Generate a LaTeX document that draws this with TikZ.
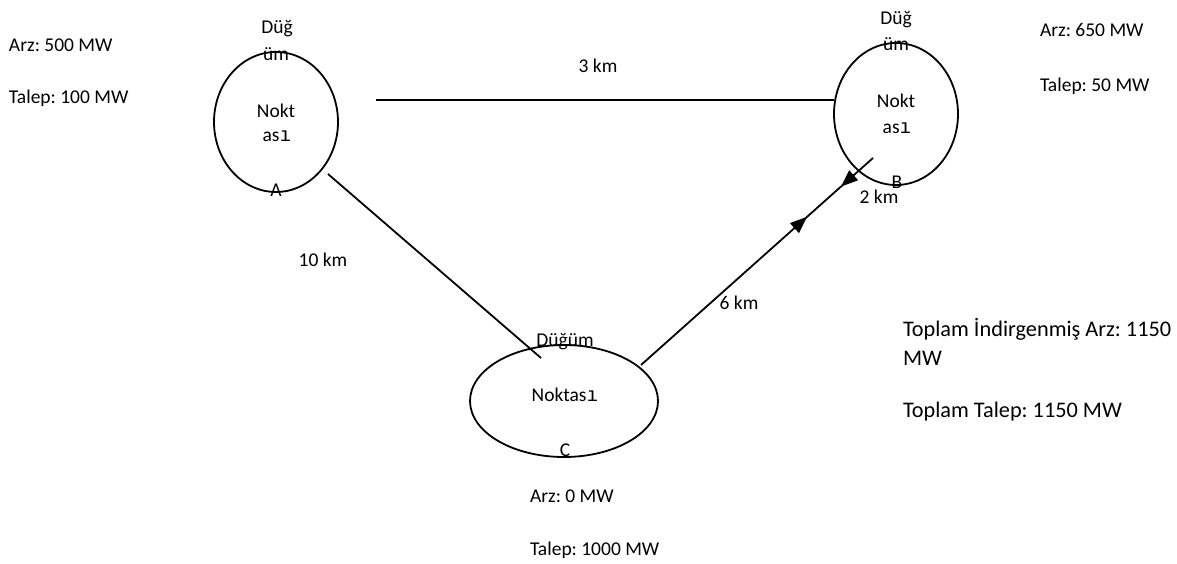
\documentclass[tikz,border=0pt]{standalone}
\usepackage{fontspec}
\setmainfont{Carlito}
\newfontfamily\monoi{DejaVu Sans Mono}
\usetikzlibrary{arrows.meta,decorations.markings,shapes.geometric}
\frenchspacing
\begin{document}
\begin{tikzpicture}[x=1pt,y=-1pt,
  every node/.style={inner sep=0pt,outer sep=0pt,font=\fontsize{19.5}{23}\selectfont},
  lbl/.style={anchor=base},
  lblw/.style={anchor=base west},
  big/.style={anchor=base west,font=\fontsize{22.3}{27}\selectfont},
  ring/.style={draw,ellipse,line width=1.8pt,inner sep=0pt},
  wire/.style={line width=1.8pt},
  tri/.tip={Triangle[length=17pt,width=13pt]}
]
\path[use as bounding box] (0,0) rectangle (1177,563);

% node ellipses
\node[ring,minimum width=124pt,minimum height=140pt] (A) at (276,122) {};
\node[ring,minimum width=124pt,minimum height=142pt] (B) at (896,114) {};
\node[ring,minimum width=188pt,minimum height=112pt] (C) at (564,401) {};

% connector end points
\coordinate (ab1) at (376,100);
\coordinate (ab2) at (834,100);
\coordinate (ac1) at (328,174);
\coordinate (ac2) at (541,358);
\coordinate (cb1) at (641,365);
\coordinate (cb2) at (873,158);

\draw[wire] (ab1) -- (ab2);
\draw[wire] (ac1) -- (ac2);
\draw[wire,postaction={decorate},decoration={markings,
   mark=at position 0.716 with {\arrow{tri}},
   mark=at position 0.862 with {\arrowreversed{tri}}}] (cb1) -- (cb2);

% texts of A
\node[lbl] (a1) at (277,33) {Düğ};
\node[lbl] (a2) at (276,60) {üm};
\node[lbl] (a3) at (276,117) {Nokt};
\node[lbl] (a4) at (277,141) {as{\monoi ı}};
\node[lbl] (a5) at (276,196) {A};
% texts of B
\node[lbl] (b1) at (896,24) {Düğ};
\node[lbl] (b2) at (896,50) {üm};
\node[lbl] (b3) at (896,107) {Nokt};
\node[lbl] (b4) at (897,133) {as{\monoi ı}};
\node[lbl] (b5) at (897,188) {B};
% texts of C
\node[lbl] (c1) at (565,346) {Düğüm};
\node[lbl] (c2) at (565,401) {Noktas{\monoi ı}};
\node[lbl] (c3) at (565,456) {C};

% distances
\node[lbl] (d1) at (598,72) {3 km};
\node[lbl] (d2) at (323,266) {10 km};
\node[lbl] (d3) at (739,309) {6 km};
\node[lbl] (d4) at (879,203) {2 km};

% supply / demand
\node[lblw] (s1) at (9,51) {Arz: 500 MW};
\node[lblw] (s2) at (9,103) {Talep: 100 MW};
\node[lblw] (s3) at (1040,36) {Arz: 650 MW};
\node[lblw] (s4) at (1040,91) {Talep: 50 MW};
\node[lblw] (s5) at (530,502) {Arz: 0 MW};
\node[lblw] (s6) at (530,555) {Talep: 1000 MW};

% totals
\node[big] (t1) at (903,336) {Toplam İndirgenmiş Arz: 1150};
\node[big] (t2) at (903,365) {MW};
\node[big] (t3) at (903,417) {Toplam Talep: 1150 MW};
\end{tikzpicture}
\end{document}
